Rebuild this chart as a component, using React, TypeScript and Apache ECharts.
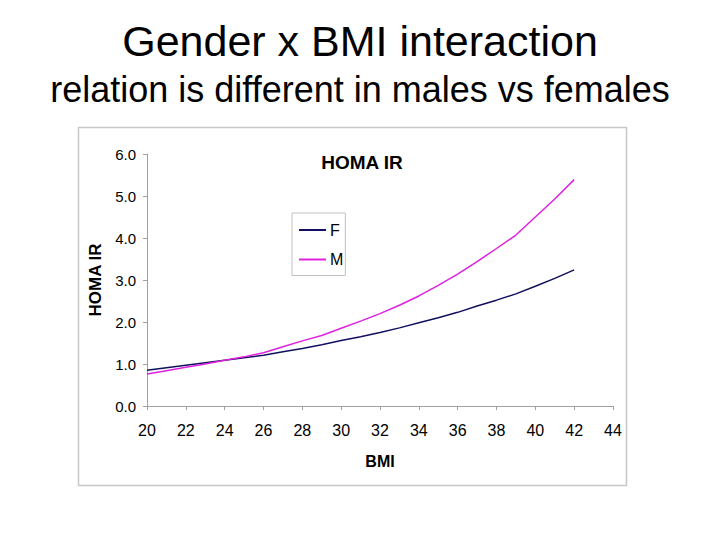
import React, { useEffect, useRef } from "react";
import * as echarts from "echarts";

const bmi = [20, 21, 22, 23, 24, 25, 26, 27, 28, 29, 30, 31, 32, 33, 34, 35, 36, 37, 38, 39, 40, 41, 42];
const femaleHoma = [0.85, 0.91, 0.97, 1.03, 1.09, 1.15, 1.21, 1.29, 1.37, 1.46, 1.56, 1.65, 1.75, 1.86, 1.98, 2.1, 2.23, 2.38, 2.52, 2.67, 2.85, 3.04, 3.24];
const maleHoma = [0.76, 0.84, 0.92, 1.0, 1.09, 1.17, 1.27, 1.41, 1.55, 1.68, 1.85, 2.02, 2.2, 2.4, 2.62, 2.87, 3.14, 3.44, 3.75, 4.07, 4.5, 4.93, 5.39];
const seriesNames = ["F", "M"];
const mainTitle = "Gender x BMI interaction";
const subTitle = "relation is different in males vs females";
const chartTitle = "HOMA IR";
const xName = "BMI";
const yName = "HOMA IR";

export default function App() {
  const ref = useRef<HTMLDivElement>(null);
  useEffect(() => {
    if (!ref.current) return;
    const chart = echarts.init(ref.current, null, { renderer: "svg" });
    const font = "Arial, 'Liberation Sans', sans-serif";
    const toPairs = (ys: number[]) => bmi.map((x, i) => [x, ys[i]]);
    chart.setOption({
      animation: false,
      backgroundColor: "#ffffff",
      textStyle: { fontFamily: font },
      graphic: [
        {
          type: "text",
          left: "center",
          top: 19,
          style: { text: mainTitle, font: `43px ${font}`, fill: "#000" },
        },
        {
          type: "text",
          left: "center",
          top: 71,
          style: { text: subTitle, font: `36px ${font}`, fill: "#000" },
        },
        {
          type: "rect",
          shape: { x: 78.5, y: 127.5, width: 548, height: 358 },
          style: { fill: "none", stroke: "#c8c8c8", lineWidth: 1.5 },
          z: -1,
        },
      ],
      title: {
        text: chartTitle,
        left: 362,
        textAlign: "center",
        top: 153,
        textStyle: { fontSize: 19, fontWeight: "bold", color: "#000", fontFamily: font },
        padding: 0,
      },
      legend: {
        orient: "vertical",
        left: 292,
        top: 213,
        data: seriesNames,
        borderColor: "#c0c0c0",
        borderWidth: 1,
        padding: [9, 2, 8, 6],
        itemWidth: 27,
        itemHeight: 14,
        itemGap: 13.5,
        itemStyle: { opacity: 0 },
        textStyle: { fontSize: 16, color: "#000", fontFamily: font, padding: [0, 0, 0, -1] },
      },
      grid: { left: 147, right: 107, top: 154, bottom: 134, containLabel: false },
      xAxis: {
        type: "value",
        min: 20,
        max: 44,
        interval: 2,
        name: xName,
        nameLocation: "middle",
        nameGap: 47,
        nameTextStyle: { fontSize: 16, fontWeight: "bold", color: "#000", verticalAlign: "top" },
        axisLine: { lineStyle: { color: "#a0a0a0", width: 1 } },
        axisTick: { show: true, length: 4, lineStyle: { color: "#a0a0a0" } },
        axisLabel: { fontSize: 16, color: "#000", margin: 16 },
        splitLine: { show: false },
      },
      yAxis: {
        type: "value",
        min: 0,
        max: 6,
        interval: 1,
        name: yName,
        nameLocation: "middle",
        nameRotate: 90,
        nameGap: 43,
        nameTextStyle: { fontSize: 17, fontWeight: "bold", color: "#000" },
        axisLine: { show: true, lineStyle: { color: "#a0a0a0", width: 1 } },
        axisTick: { show: true, length: 4, lineStyle: { color: "#a0a0a0" } },
        axisLabel: { fontSize: 15, color: "#000", margin: 11, formatter: (v: number) => v.toFixed(1) },
        splitLine: { show: false },
      },
      series: [
        {
          name: seriesNames[0],
          type: "line",
          data: toPairs(femaleHoma),
          symbol: "none",
          lineStyle: { color: "#10105e", width: 1.5 },
          itemStyle: { color: "#10105e" },
        },
        {
          name: seriesNames[1],
          type: "line",
          data: toPairs(maleHoma),
          symbol: "none",
          lineStyle: { color: "#e020e0", width: 1.5 },
          itemStyle: { color: "#e020e0" },
        },
      ],
    });
    return () => chart.dispose();
  }, []);
  return (
    <div
      ref={ref}
      style={{ position: "fixed", left: 0, top: 0, width: 720, height: 540, background: "#fff" }}
    />
  );
}
